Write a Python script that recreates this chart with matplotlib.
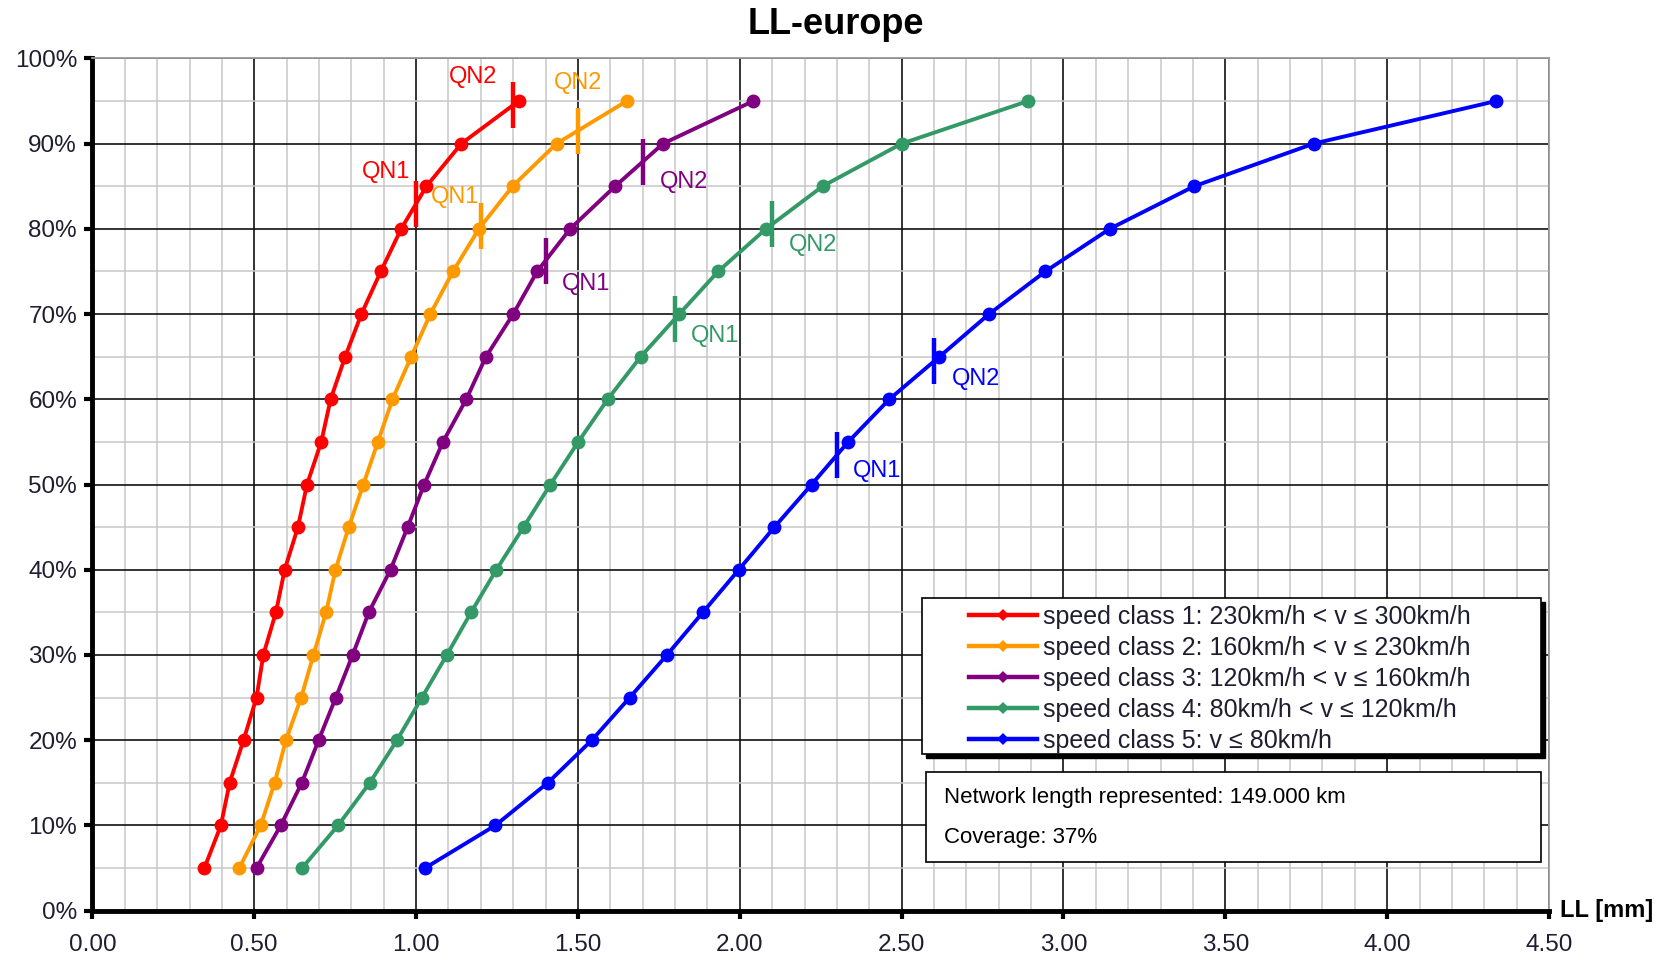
import numpy as np
import matplotlib
matplotlib.use("Agg")
import matplotlib.pyplot as plt
from matplotlib.lines import Line2D
from matplotlib.patches import Rectangle
from matplotlib.ticker import MultipleLocator, FuncFormatter

plt.rcParams['font.family'] = ['Liberation Sans', 'DejaVu Sans']

# ---- data -------------------------------------------------------------
percentiles = [5, 10, 15, 20, 25, 30, 35, 40, 45, 50, 55, 60, 65, 70, 75, 80, 85, 90, 95]

ll_class1 = [0.346, 0.397, 0.424, 0.467, 0.507, 0.528, 0.567, 0.594, 0.635, 0.663,
             0.707, 0.736, 0.781, 0.831, 0.891, 0.954, 1.032, 1.140, 1.317]
ll_class2 = [0.454, 0.520, 0.563, 0.598, 0.645, 0.683, 0.722, 0.751, 0.792, 0.837,
             0.882, 0.927, 0.985, 1.044, 1.114, 1.194, 1.298, 1.434, 1.651]
ll_class3 = [0.507, 0.582, 0.647, 0.699, 0.752, 0.804, 0.854, 0.921, 0.974, 1.025,
             1.083, 1.155, 1.216, 1.300, 1.374, 1.476, 1.615, 1.763, 2.042]
ll_class4 = [0.648, 0.759, 0.857, 0.941, 1.018, 1.095, 1.170, 1.248, 1.332, 1.415,
             1.501, 1.592, 1.694, 1.813, 1.933, 2.081, 2.256, 2.500, 2.891]
ll_class5 = [1.028, 1.245, 1.407, 1.543, 1.660, 1.775, 1.886, 1.997, 2.107, 2.222,
             2.335, 2.462, 2.617, 2.770, 2.944, 3.143, 3.404, 3.773, 4.337]

qn1_limits = [1.00, 1.20, 1.40, 1.80, 2.30]
qn2_limits = [1.30, 1.50, 1.70, 2.10, 2.60]

class_labels = [
    "speed class 1: 230km/h < v \u2264 300km/h",
    "speed class 2: 160km/h < v \u2264 230km/h",
    "speed class 3: 120km/h < v \u2264 160km/h",
    "speed class 4: 80km/h < v \u2264 120km/h",
    "speed class 5: v \u2264 80km/h",
]
class_colors = ["#ff0000", "#ff9900", "#800080", "#339966", "#0000ff"]

network_text = "Network length represented: 149.000 km"
coverage_text = "Coverage: 37%"
title_text = "LL-europe"
x_unit_text = "LL [mm]"

# label offsets (pixels) of the QN1 / QN2 annotations relative to their tick
qn1_offsets = [(-30, 32), (-26, 29), (40, -23), (40, -17), (40, -16)]
qn2_offsets = [(-40, 28), (0, 48), (41, -20), (41, -21), (42, -18)]

# ---- figure -----------------------------------------------------------
W, H = 1666, 960
fig = plt.figure(figsize=(W / 100, H / 100), dpi=100)
ax = fig.add_axes([92.4 / W, 1 - 910.6 / H, (1549 - 92.4) / W, (910.6 - 58.4) / H])

ax.set_xlim(0, 4.5)
ax.set_ylim(0, 100)
ax.set_axisbelow(True)

ax.xaxis.set_major_locator(MultipleLocator(0.5))
ax.xaxis.set_minor_locator(MultipleLocator(0.1))
ax.yaxis.set_major_locator(MultipleLocator(10))
ax.yaxis.set_minor_locator(MultipleLocator(5))
ax.xaxis.set_major_formatter(FuncFormatter(lambda v, p: f"{v:.2f}"))
ax.yaxis.set_major_formatter(FuncFormatter(lambda v, p: f"{v:.0f}%"))

ax.grid(which="minor", color="#c8c8c8", lw=1.1)
ax.grid(which="major", color="#111111", lw=1.2)

tick_color = "#1e1e30"
ax.tick_params(which="major", length=6, width=3, color="black",
               labelsize=17.5, labelcolor=tick_color)
ax.tick_params(axis="x", which="major", pad=11)
ax.tick_params(axis="y", which="major", pad=5)
ax.tick_params(which="minor", length=0)

for side in ("left", "bottom"):
    ax.spines[side].set_linewidth(3.5)
    ax.spines[side].set_color("black")
for side in ("top", "right"):
    ax.spines[side].set_linewidth(1.3)
    ax.spines[side].set_color("#9a9a9a")

series = [ll_class1, ll_class2, ll_class3, ll_class4, ll_class5]
for vals, color, q1, q2, o1, o2 in zip(series, class_colors, qn1_limits, qn2_limits,
                                       qn1_offsets, qn2_offsets):
    ax.plot(vals, percentiles, color=color, lw=2.8, marker="o", markersize=10,
            markeredgewidth=0, zorder=3)
    for q, name, off in ((q1, "QN1", o1), (q2, "QN2", o2)):
        yq = float(np.interp(q, vals, percentiles))
        ax.plot([q], [yq], marker="|", markersize=33, markeredgewidth=3.2,
                color=color, zorder=4)
        ax.annotate(name, (q, yq), xytext=off, textcoords="offset pixels",
                    ha="center", va="center", color=color, fontsize=17, zorder=5)

# legend with its own framed box and drop shadow
lg_l, lg_r = (922 - 92.4) / 1456.6, (1541 - 92.4) / 1456.6
lg_b, lg_t = (910.6 - 754) / 852.2, (910.6 - 598) / 852.2
sh = 4 / 1456.6
ax.add_patch(Rectangle((lg_l + sh, lg_b - 4 / 852.2), lg_r - lg_l, lg_t - lg_b,
                       transform=ax.transAxes, facecolor="black", edgecolor="black",
                       zorder=6))
ax.add_patch(Rectangle((lg_l, lg_b), lg_r - lg_l, lg_t - lg_b, transform=ax.transAxes,
                       facecolor="white", edgecolor="black", lw=1.2, zorder=7))

handles = [Line2D([], [], color=c, lw=3.2, marker="D", markersize=6, markeredgewidth=0)
           for c in class_colors]
leg = ax.legend(handles, class_labels, loc="upper left",
                bbox_to_anchor=((969 - 92.4) / 1456.6, lg_t - 7 / 852.2),
                frameon=False, fontsize=18, handlelength=2.7, handletextpad=0.25,
                labelspacing=0.28, borderpad=0.0, borderaxespad=0.0)
leg.set_zorder(8)
for t in leg.get_texts():
    t.set_color(tick_color)

# info box
ib_l, ib_r = (926 - 92.4) / 1456.6, (1541 - 92.4) / 1456.6
ib_b, ib_t = (910.6 - 862) / 852.2, (910.6 - 772) / 852.2
ax.add_patch(Rectangle((ib_l, ib_b), ib_r - ib_l, ib_t - ib_b, transform=ax.transAxes,
                       facecolor="white", edgecolor="black", lw=1.2, zorder=7))
ax.text((944 - 92.4) / 1456.6, (910.6 - 797) / 852.2, network_text,
        transform=ax.transAxes, ha="left", va="center", fontsize=16,
        color="black", zorder=8)
ax.text((944 - 92.4) / 1456.6, (910.6 - 838) / 852.2, coverage_text,
        transform=ax.transAxes, ha="left", va="center", fontsize=16,
        color="black", zorder=8)

# axis unit and title
ax.text((1560 - 92.4) / 1456.6, 0, x_unit_text, transform=ax.transAxes,
        ha="left", va="center", fontsize=17, fontweight="bold", color="black")
fig.text(836 / W, 1 - 24 / H, title_text, ha="center", va="center",
         fontsize=26, fontweight="bold", color="black")

fig.savefig("out.png", dpi=100, facecolor="white")
